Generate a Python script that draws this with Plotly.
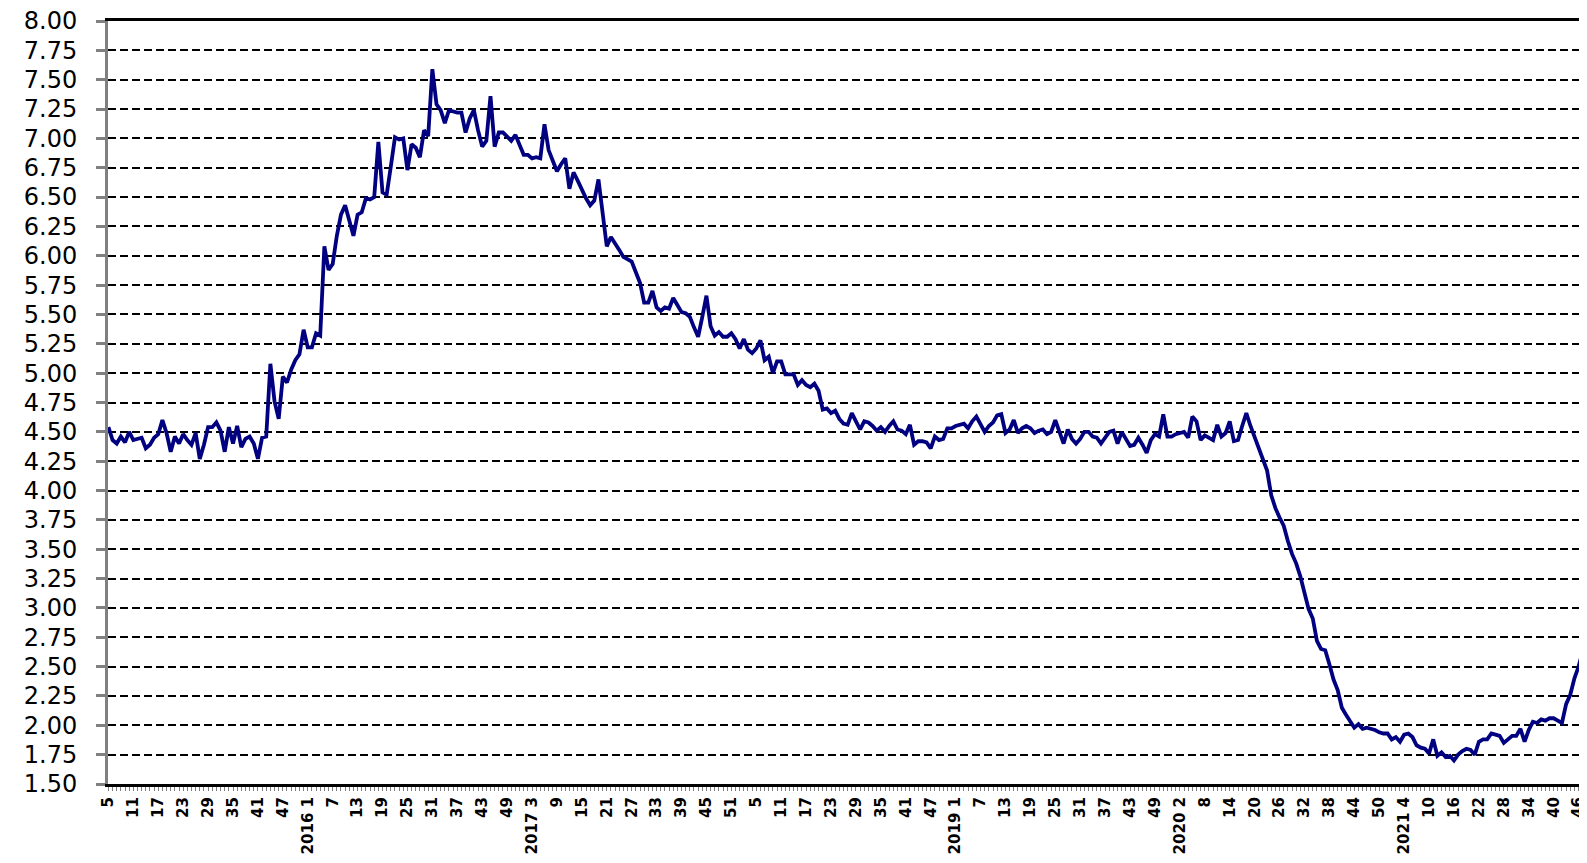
import plotly.graph_objects as go

# Weekly values, one list per year (2015 starts at week 5, 2021 ends at week 48)
values_2015 = [4.54, 4.43, 4.40, 4.46, 4.41, 4.50, 4.43, 4.44, 4.45, 4.36, 4.39, 4.45,
               4.48, 4.60, 4.49, 4.33, 4.46, 4.40, 4.48, 4.43, 4.39, 4.49, 4.27, 4.39,
               4.54, 4.54, 4.58, 4.51, 4.33, 4.54, 4.40, 4.55, 4.37, 4.44, 4.46, 4.40,
               4.27, 4.45, 4.46, 5.08, 4.76, 4.61, 4.97, 4.92, 5.03, 5.11, 5.16, 5.37]
values_2016 = [5.22, 5.22, 5.34, 5.32, 6.08, 5.88, 5.93, 6.17, 6.35, 6.43, 6.30, 6.17,
               6.35, 6.37, 6.49, 6.48, 6.50, 6.97, 6.54, 6.52, 6.76, 7.01, 6.99, 7.00,
               6.73, 6.95, 6.92, 6.84, 7.07, 7.02, 7.59, 7.29, 7.24, 7.13, 7.24, 7.23,
               7.22, 7.22, 7.05, 7.17, 7.24, 7.07, 6.93, 6.98, 7.36, 6.93, 7.05, 7.05,
               7.01, 6.98, 7.03, 6.94]
values_2017 = [6.86, 6.86, 6.83, 6.84, 6.83, 7.12, 6.90, 6.81, 6.72, 6.78, 6.83, 6.57,
               6.71, 6.64, 6.56, 6.49, 6.43, 6.47, 6.65, 6.39, 6.08, 6.16, 6.11, 6.05,
               5.99, 5.97, 5.95, 5.86, 5.77, 5.60, 5.60, 5.70, 5.56, 5.53, 5.56, 5.55,
               5.64, 5.58, 5.52, 5.51, 5.48, 5.39, 5.31, 5.48, 5.66, 5.40, 5.32, 5.35,
               5.31, 5.31, 5.34, 5.29]
values_2018 = [5.21, 5.29, 5.20, 5.17, 5.21, 5.28, 5.11, 5.14, 5.00, 5.10, 5.10, 4.99,
               4.99, 4.99, 4.90, 4.94, 4.90, 4.88, 4.91, 4.85, 4.69, 4.70, 4.66, 4.68,
               4.61, 4.57, 4.56, 4.66, 4.59, 4.52, 4.59, 4.58, 4.55, 4.51, 4.54, 4.50,
               4.55, 4.59, 4.52, 4.51, 4.48, 4.56, 4.39, 4.42, 4.42, 4.41, 4.36, 4.46,
               4.43, 4.44, 4.53, 4.53]
values_2019 = [4.55, 4.56, 4.57, 4.53, 4.59, 4.63, 4.56, 4.50, 4.55, 4.58, 4.64, 4.65,
               4.49, 4.52, 4.60, 4.49, 4.53, 4.55, 4.53, 4.49, 4.51, 4.52, 4.48, 4.50,
               4.60, 4.49, 4.40, 4.52, 4.44, 4.40, 4.44, 4.50, 4.50, 4.46, 4.45, 4.40,
               4.45, 4.50, 4.51, 4.40, 4.50, 4.44, 4.38, 4.39, 4.45, 4.39, 4.32, 4.43,
               4.48, 4.46, 4.65, 4.46, 4.46]
values_2020 = [4.48, 4.49, 4.50, 4.45, 4.63, 4.59, 4.43, 4.47, 4.45, 4.43, 4.56, 4.46,
               4.49, 4.59, 4.42, 4.43, 4.55, 4.66, 4.55, 4.45, 4.36, 4.25, 4.17, 3.96,
               3.85, 3.77, 3.70, 3.57, 3.46, 3.38, 3.27, 3.13, 2.99, 2.91, 2.72, 2.65,
               2.64, 2.52, 2.39, 2.30, 2.15, 2.09, 2.03, 1.98, 2.01, 1.97, 1.98, 1.97,
               1.96, 1.94, 1.93, 1.93]
values_2021 = [1.88, 1.90, 1.86, 1.92, 1.93, 1.90, 1.83, 1.81, 1.80, 1.76, 1.88, 1.74,
               1.77, 1.73, 1.74, 1.70, 1.75, 1.78, 1.80, 1.79, 1.75, 1.86, 1.88, 1.88,
               1.93, 1.92, 1.91, 1.85, 1.88, 1.91, 1.91, 1.97, 1.86, 1.96, 2.03, 2.02,
               2.05, 2.04, 2.06, 2.06, 2.04, 2.02, 2.18, 2.26, 2.40, 2.50, 2.63, 2.65]

# Category tick labels (every 6th week)
tick_labels = ["5", "11", "17", "23", "29", "35", "41", "47",
               "2016 1", "7", "13", "19", "25", "31", "37", "43", "49",
               "2017 3", "9", "15", "21", "27", "33", "39", "45", "51",
               "5", "11", "17", "23", "29", "35", "41", "47",
               "2019 1", "7", "13", "19", "25", "31", "37", "43", "49",
               "2020 2", "8", "14", "20", "26", "32", "38", "44", "50",
               "2021 4", "10", "16", "22", "28", "34", "40", "46"]
tick_step = 6

y_ticks = [1.50 + 0.25 * k for k in range(27)]

values = (values_2015 + values_2016 + values_2017 + values_2018 +
          values_2019 + values_2020 + values_2021)
x = list(range(len(values)))
tick_positions = [i * tick_step for i in range(len(tick_labels))]

fig = go.Figure()
fig.add_trace(go.Scatter(
    x=x, y=values, mode="lines",
    line=dict(color="#000080", width=3.8),
    hoverinfo="y", showlegend=False,
))

# The page body adds an 8px margin, so the figure is sized to fit the window.
fig.update_layout(
    width=1579, height=855,
    margin=dict(l=100, r=0, t=13, b=79, autoexpand=False),
    paper_bgcolor="white", plot_bgcolor="white",
    font=dict(family="DejaVu Sans, sans-serif", color="black"),
)
fig.update_xaxes(
    range=[-0.1, 356.03],
    automargin=False,
    tickmode="array", tickvals=tick_positions, ticktext=tick_labels,
    tickangle=-90,
    tickfont=dict(family="DejaVu Sans, sans-serif", size=15, color="black", weight="bold"),
    ticklabeloverflow="allow",
    ticks="outside", ticklen=4, tickwidth=1, tickcolor="#808080",
    minor=dict(tickmode="linear", tick0=0, dtick=1, ticks="outside",
               ticklen=4, tickwidth=1, tickcolor="#808080", showgrid=False),
    showline=True, linecolor="black", linewidth=3, mirror=True,
    showgrid=False, zeroline=False,
)
fig.update_yaxes(
    range=[1.5, 8.0],
    automargin=False,
    tickmode="array", tickvals=y_ticks, ticktext=[f"{v:.2f}" for v in y_ticks],
    tickfont=dict(family="DejaVu Sans, sans-serif", size=24, color="black"),
    ticklabeloverflow="allow",
    ticks="outside", ticklen=9, tickwidth=3, tickcolor="#808080",
    ticklabelstandoff=14,
    showline=True, linecolor="#808080", linewidth=3,
    showgrid=True, gridcolor="black", gridwidth=1.5, griddash="8px,4px",
    zeroline=False,
)

fig.write_html("out.html")
